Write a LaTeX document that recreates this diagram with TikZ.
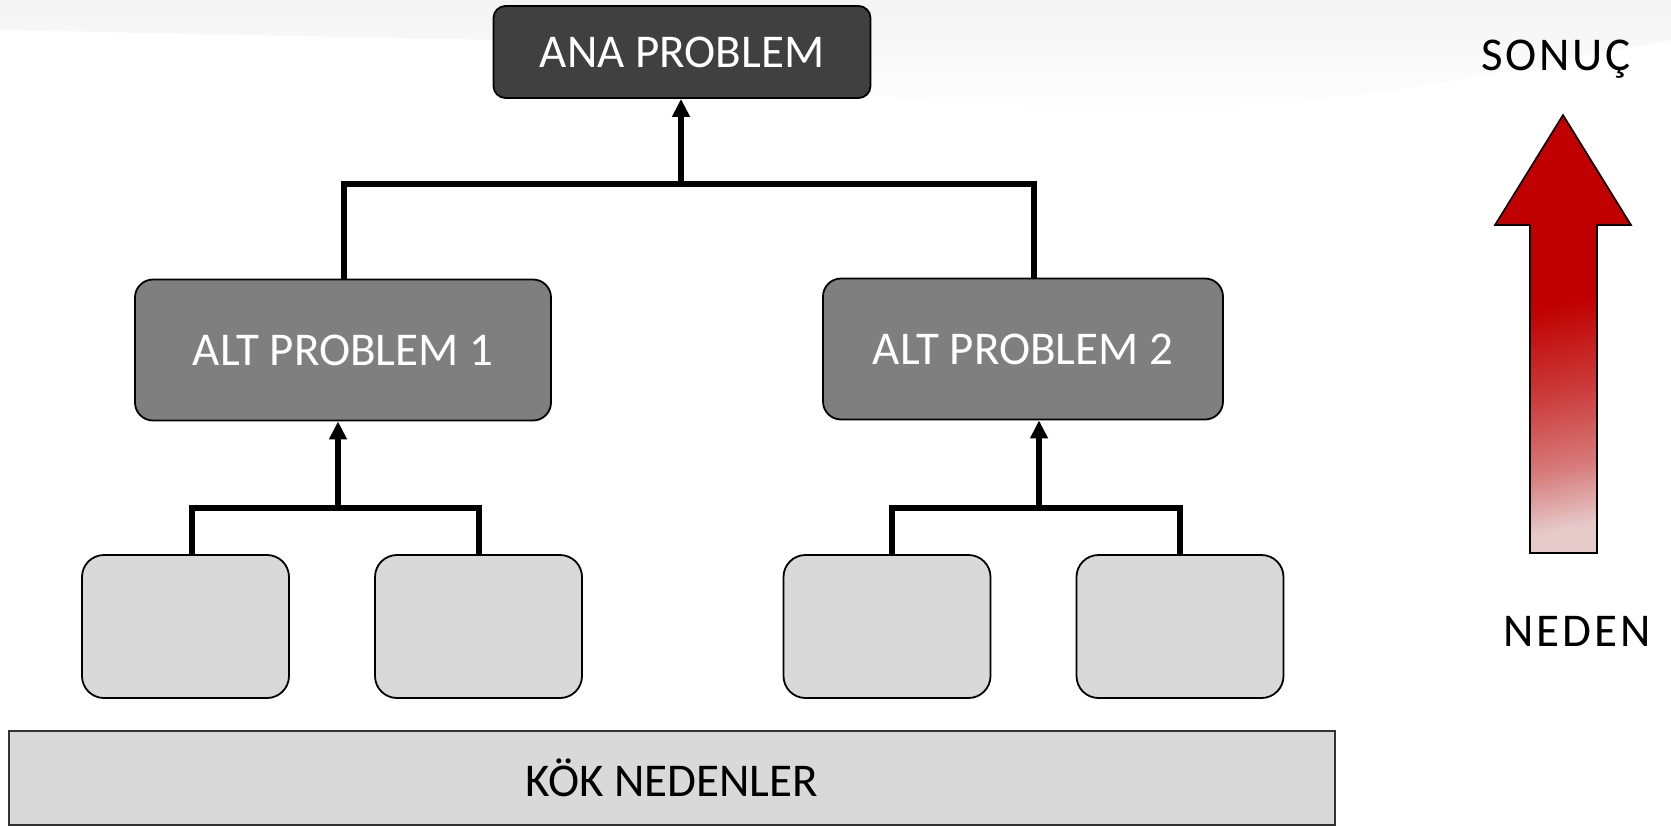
\documentclass[tikz,border=0pt]{standalone}
\usepackage{fontspec}
\setmainfont{Carlito}
\newfontfamily\spacedfont[LetterSpace=6]{Carlito}
\usetikzlibrary{arrows.meta}
\definecolor{anagray}{HTML}{404040}
\definecolor{altgray}{HTML}{7F7F7F}
\definecolor{lightbox}{HTML}{D9D9D9}
\definecolor{arrowred}{HTML}{C00000}
\definecolor{arrowpink}{HTML}{E6CACA}
\definecolor{bgstreak}{HTML}{F4F4F4}
\pgfdeclareverticalshading{redfade}{100bp}{color(0bp)=(arrowpink); color(25bp)=(arrowpink); color(33bp)=(arrowred!40!arrowpink); color(43bp)=(arrowred!72!arrowpink); color(54bp)=(arrowred); color(100bp)=(arrowred)}
\tikzset{
  anabox/.style={draw=black, line width=1.8pt, fill=anagray, rounded corners=12pt, text=white, font=\fontsize{47}{50}\selectfont, minimum width=377pt, minimum height=92pt, inner sep=0pt},
  altbox/.style={draw=black, line width=1.8pt, fill=altgray, rounded corners=18pt, text=white, font=\fontsize{47}{50}\selectfont, inner sep=0pt},
  leafbox/.style={draw=black, line width=1.8pt, fill=lightbox, rounded corners=22pt, minimum width=207pt, minimum height=143pt, inner sep=0pt},
  rootbox/.style={draw=black!80, line width=1.8pt, fill=lightbox, minimum width=1326pt, minimum height=94pt, inner sep=0pt, font=\fontsize{47}{50}\selectfont},
  sidelabel/.style={font=\spacedfont\fontsize{47}{50}\selectfont, inner sep=0pt},
  conn/.style={line width=6pt, line join=miter},
  upconn/.style={line width=6pt, -{Triangle[width=17pt,length=18pt]}},
}
\begin{document}
\begin{tikzpicture}[x=1pt,y=-1pt]
\useasboundingbox (0,0) rectangle (1671,827);
\fill[white] (0,0) rectangle (1671,827);
% faint background texture at top
\shade[top color=bgstreak, bottom color=white] (0,0) -- (1671,0) -- (1671,40) -- (1400,90) -- (1150,120) -- (800,90) -- (500,40) -- (0,30) -- cycle;

% nodes
\node[anabox] (ana) at (682,52) {ANA PROBLEM};
\node[altbox, minimum width=416pt, minimum height=141pt] (alt1) at (343,350) {ALT PROBLEM 1};
\node[altbox, minimum width=400pt, minimum height=141pt] (alt2) at (1023,349) {ALT PROBLEM 2};
\node[leafbox] (l1) at (185.5,626.5) {};
\node[leafbox] (l2) at (478.5,626.5) {};
\node[leafbox] (l3) at (887,626.5) {};
\node[leafbox] (l4) at (1180,626.5) {};
\node[rootbox] (root) at (672,778) {KÖK NEDENLER};

% junction coordinates
\coordinate (j0) at (681,184);
\coordinate (j1) at (338,508);
\coordinate (j2) at (1039,508);

% connectors to ANA PROBLEM
\draw[conn] (alt1.north -| 344,0) |- (1034,184) -- (alt2.north -| 1034,0);
\draw[upconn] (j0) -- (ana.south -| j0);
% connectors to ALT PROBLEM 1
\draw[conn] (l1.north -| 192,0) |- (479,508) -- (l2.north -| 479,0);
\draw[upconn] (j1) -- (alt1.south -| j1);
% connectors to ALT PROBLEM 2
\draw[conn] (l3.north -| 892,0) |- (1180,508) -- (l4.north -| 1180,0);
\draw[upconn] (j2) -- (alt2.south -| j2);

% cause -> effect arrow
\shade[shading=redfade, shading angle=12, draw=black, line width=1.6pt]
  (1530,553) -- (1530,225) -- (1495,225) -- (1563,115) -- (1631,225) -- (1597,225) -- (1597,553) -- cycle;
\node[sidelabel] (sonuc) at (1556,59) {SONUÇ};
\node[sidelabel] (neden) at (1577,631) {NEDEN};
\end{tikzpicture}
\end{document}
